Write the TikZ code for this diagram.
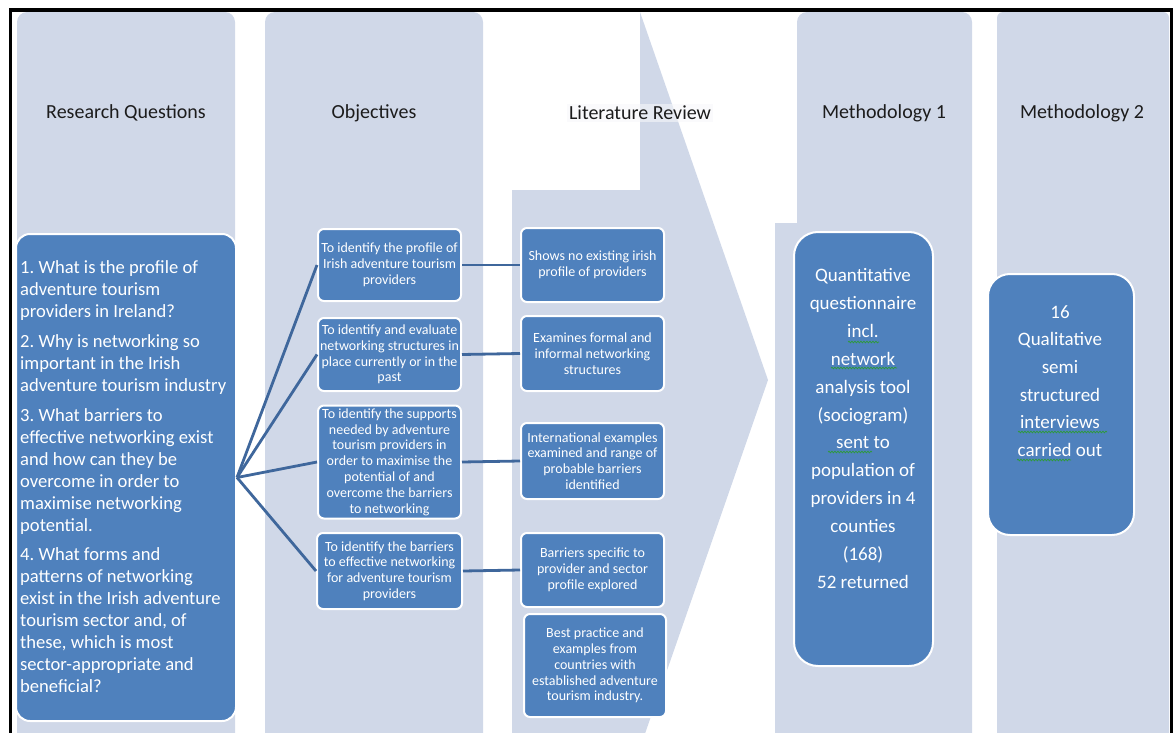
\documentclass[tikz,border=0pt]{standalone}
\usepackage{fontspec}
\setmainfont{Carlito}
\usetikzlibrary{decorations.pathmorphing}

\definecolor{lane}{HTML}{D0D8E8}
\definecolor{boxblue}{HTML}{4F81BD}
\definecolor{linkblue}{HTML}{3F679C}
\definecolor{headtext}{HTML}{1C1C1C}
\definecolor{spellgreen}{HTML}{2E9A3A}

\tikzset{
  lanefill/.style={fill=lane},
  heading/.style={text=headtext, font=\fontsize{20}{24}\selectfont, inner sep=2pt},
  bluebox/.style={draw=white, line width=2pt, fill=boxblue, text=white,
    rounded corners=6pt, align=center, inner sep=0pt},
  smallbox/.style={bluebox, font=\fontsize{14}{15.8}\selectfont},
  boxtext/.style={text=white, inner sep=0pt},
  link/.style={draw=linkblue, line width=2.8pt},
  squiggly/.style={draw=spellgreen, line width=0.7pt,
    decorate, decoration={snake, amplitude=0.9pt, segment length=3pt}}
}

\begin{document}
\frenchspacing
\begin{tikzpicture}[x=1pt,y=-1pt]
\useasboundingbox (0,0) rectangle (1175,733);
\clip (0,0) rectangle (1175,733);

% background lanes
\fill[lanefill, rounded corners=10pt] (17,760) -- (17,12) -- (235,12) -- (235,760) -- cycle;
\fill[lanefill, rounded corners=10pt] (265,760) -- (265,12) -- (483,12) -- (483,760) -- cycle;
\fill[lanefill] (512,760) -- (512,190) -- (640,190) -- (640,12) -- (768,380) -- (640,748) -- (640,760) -- cycle;
\fill[lanefill, rounded corners=10pt] (797,760) -- (797,12) -- (972,12) -- (972,760) -- cycle;
\fill[lanefill] (775,223) rectangle (800,760);
\fill[lanefill, rounded corners=6pt] (997,760) -- (997,12) -- (1169,12) -- (1169,760) -- cycle;

% frame
\draw[black, line width=3.5pt] (10.5,760) -- (10.5,10) -- (1171.5,10) -- (1171.5,760);

% column headings
\node[heading] (hrq) at (126,113) {Research Questions};
\node[heading] (hobj) at (374,113) {Objectives};
\node[heading, fill=white!80!lane, fill opacity=0.6, text opacity=1] (hlit) at (640,113) {Literature Review};
\node[heading] (hm1) at (884,113) {Methodology 1};
\node[heading] (hm2) at (1082,113) {Methodology 2};

% research questions
\node[bluebox, rounded corners=14pt, minimum width=220pt, minimum height=487pt] (rq) at (126,477.5) {};
\node[boxtext, anchor=west, align=left, font=\fontsize{18.6}{22}\selectfont] (rqt) at (20,477)
{1. What is the profile of\\
adventure tourism\\
providers in Ireland?\\[7.7pt]
2. Why is networking so\\
important in the Irish\\
adventure tourism industry\\[7.7pt]
3. What barriers to\\
effective networking exist\\
and how can they be\\
overcome in order to\\
maximise networking\\
potential.\\[7.7pt]
4. What forms and\\
patterns of networking\\
exist in the Irish adventure\\
tourism sector and, of\\
these, which is most\\
sector-appropriate and\\
beneficial?};

% objectives
\node[smallbox, minimum width=143pt, minimum height=72pt] (o1) at (389.5,265)
{To identify the profile of\\Irish adventure tourism\\providers};
\node[smallbox, minimum width=143pt, minimum height=73pt] (o2) at (389.5,354.5)
{To identify and evaluate\\networking structures in\\place currently or in the\\past};
\node[smallbox, minimum width=143pt, minimum height=113pt] (o3) at (389.5,462)
{To identify the supports\\needed by adventure\\tourism providers in\\order to maximise the\\potential of and\\overcome the barriers\\to networking};
\node[smallbox, minimum width=145pt, minimum height=76pt] (o4) at (389.5,571)
{To identify the barriers\\to effective networking\\for adventure tourism\\providers};

% literature review findings
\node[smallbox, minimum width=143pt, minimum height=74pt] (l1) at (592.5,265)
{Shows no existing irish\\profile of providers};
\node[smallbox, minimum width=143pt, minimum height=75pt] (l2) at (592.5,353.5)
{Examines formal and\\informal networking\\structures};
\node[smallbox, minimum width=143pt, minimum height=76pt] (l3) at (592.5,461)
{International examples\\examined and range of\\probable barriers\\identified};
\node[smallbox, minimum width=143pt, minimum height=74pt] (l4) at (592.5,570)
{Barriers specific to\\provider and sector\\profile explored};
\node[smallbox, minimum width=142pt, minimum height=103pt] (l5) at (595,665.5)
{Best practice and\\examples from\\countries with\\established adventure\\tourism industry.};

% methodology boxes
\node[bluebox, rounded corners=24pt, minimum width=139pt, minimum height=434pt] (m1) at (863.5,449) {};
\node[boxtext, align=center, font=\fontsize{19}{27.9}\selectfont] (m1t) at (863,428.5)
{Quantitative\\questionnaire\\incl.\\network\\analysis tool\\(sociogram)\\sent to\\population of\\providers in 4\\counties\\(168)\\52 returned};
\node[bluebox, rounded corners=22pt, minimum width=146pt, minimum height=261pt] (m2) at (1061,404.5) {};
\node[boxtext, align=center, font=\fontsize{19}{27.6}\selectfont] (m2t) at (1060,381)
{16\\Qualitative\\semi\\structured\\interviews\\carried out};

% spell-check underlines
\draw[squiggly] (848,342) -- (879,342);
\draw[squiggly] (831,368) -- (897,368);
\draw[squiggly] (828,452) -- (872,452);
\draw[squiggly] (1018,432) -- (1107,432);
\draw[squiggly] (1017,460) -- (1071,460);

% connectors
\draw[link] (rq.east) -- (o1.west);
\draw[link] (rq.east) -- (o2.west);
\draw[link] (rq.east) -- (o3.west);
\draw[link] (rq.east) -- (o4.west);
\draw[link] (o1.east) -- (l1.west);
\draw[link] (o2.east) -- (l2.west);
\draw[link] (o3.east) -- (l3.west);
\draw[link] (o4.east) -- (l4.west);
\end{tikzpicture}
\end{document}
